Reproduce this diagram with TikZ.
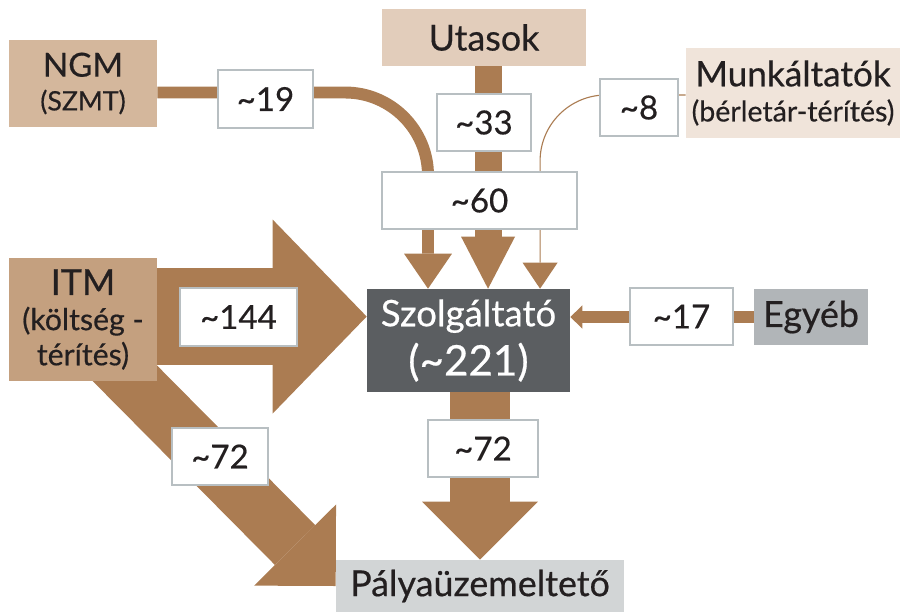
\documentclass[tikz,border=0pt]{standalone}
\usepackage{fontspec}
\setmainfont{Lato}[FakeBold=0.5]
\usetikzlibrary{arrows.meta,positioning}

\pgfdeclarelayer{background}
\pgfsetlayers{background,main}

\definecolor{ngmtan}{HTML}{D4B79C}
\definecolor{utasoktan}{HTML}{E2CDBB}
\definecolor{munktan}{HTML}{F0E4DA}
\definecolor{itmtan}{HTML}{C4A07F}
\definecolor{szolggray}{HTML}{5B5E61}
\definecolor{egyebgray}{HTML}{B1B5B8}
\definecolor{palyagray}{HTML}{D2D5D6}
\definecolor{flowbrown}{HTML}{AB7C52}
\definecolor{valgray}{HTML}{B8BFC2}
\definecolor{textdark}{HTML}{231F20}

\newcommand{\kb}{\textasciitilde}

\begin{document}
\begin{tikzpicture}[
        x=0.025cm, y=-0.025cm,
        every node/.style={inner sep=0pt, align=center, text=textdark},
        src/.style={font=\fontsize{25.5}{24}\selectfont},
        valbox/.style={draw=valgray, line width=1.6pt, fill=white,
            minimum height=1.425cm, font=\fontsize{23.5}{24}\selectfont},
        flow/.style={draw=flowbrown}
    ]
    \useasboundingbox (0,0) rectangle (900,612);

    % sources and sinks
    \node[src, fill=ngmtan, minimum width=3.7cm, minimum height=2.175cm, font=\fontsize{23.5}{24}\selectfont] (ngm) at (83,83.5)
        {NGM\\{\fontsize{19}{18}\selectfont (SZMT)}};
    \node[src, fill=utasoktan, minimum width=5.1cm, minimum height=1.425cm] (utasok) at (484,37.5) {Utasok};
    \node[src, fill=munktan, minimum width=5.35cm, minimum height=2.25cm, font=\fontsize{25}{25}\selectfont] (munk) at (793,93)
        {Munkáltatók\\{\fontsize{20.3}{22}\selectfont (bérletár-térítés)}};
    \node[src, fill=itmtan, minimum width=3.7cm, minimum height=3.075cm, font=\fontsize{25.5}{25}\selectfont] (itm) at (83,319.5)
        {ITM\\{\fontsize{21.5}{22}\selectfont (költség -}\\{\fontsize{21.5}{22}\selectfont térítés)}};
    \node[fill=szolggray, text=white, minimum width=5.075cm, minimum height=2.575cm, font=\fontsize{26}{35}\selectfont] (szolg) at (468.5,340.5)
        {Szolgáltató\\{\fontsize{30}{30}\selectfont (\kb221)}};
    \node[src, fill=egyebgray, minimum width=2.85cm, minimum height=1.4cm] (egyeb) at (811,317) {Egyéb};
    \node[src, fill=palyagray, minimum width=7.2cm, minimum height=1.3cm] (palya) at (480,586) {Pályaüzemeltető};

    % values
    \node[valbox, minimum width=2.375cm, minimum height=1.45cm] (v19) at (265.5,99) {\kb19};
    \node[valbox, minimum width=2.35cm] (v33) at (484,122.5) {\kb33};
    \node[valbox, minimum width=4.875cm] (v60) at (479.5,200.5) {\kb60};
    \node[valbox, minimum width=1.95cm] (v8) at (639,107.5) {\kb8};
    \node[valbox, minimum width=2.925cm, minimum height=1.45cm] (v144) at (238.5,317) {\kb144};
    \node[valbox, minimum width=2.575cm] (v17) at (681.5,316.5) {\kb17};
    \node[valbox, minimum width=2.4cm] (v72a) at (220,456.5) {\kb72};
    \node[valbox, minimum width=2.75cm] (v72b) at (483,448.5) {\kb72};

    % flows
    \begin{pgfonlayer}{background}
        \draw[flow, line width=8.5pt, rounded corners=59pt, -{Triangle[length=24.9pt,width=34.1pt,line width=0pt]}]
            ([yshift=-6.4pt]ngm.east) -| ([xshift=-28.8pt]szolg.north);
        \coordinate (uin) at ([xshift=13.9pt]szolg.north);
        \draw[flow, line width=19.2pt, -{Triangle[length=37pt,width=38.4pt,line width=0pt]}]
            (uin |- utasok.south) -- (uin);
        \draw[flow, line width=0.8pt, rounded corners=47pt, -{Triangle[length=18.5pt,width=24.9pt,line width=0pt]}]
            ([yshift=-1.4pt]munk.west) -| ([xshift=50.9pt]szolg.north);
        \draw[flow, line width=8.5pt, -{Triangle[length=8.5pt,width=16.4pt,line width=0pt]}]
            (egyeb.west) -- (egyeb.west -| szolg.east);
        \coordinate (itmout) at ([yshift=2.1pt]itm.east);
        \draw[flow, line width=69pt, -{Triangle[length=66.9pt,width=138pt,line width=0pt]}]
            (itmout) -- (itmout -| szolg.west);
        \draw[flow, line width=40.3pt, -{Triangle[length=41pt,width=82pt,line width=0pt]}]
            ([yshift=-8.2pt]itm.center) -- (palya.west);
        \draw[flow, line width=42pt, -{Triangle[length=41.3pt,width=82.5pt,line width=0pt]}]
            (palya.north |- szolg.south) -- (palya.north);
    \end{pgfonlayer}
\end{tikzpicture}
\end{document}
